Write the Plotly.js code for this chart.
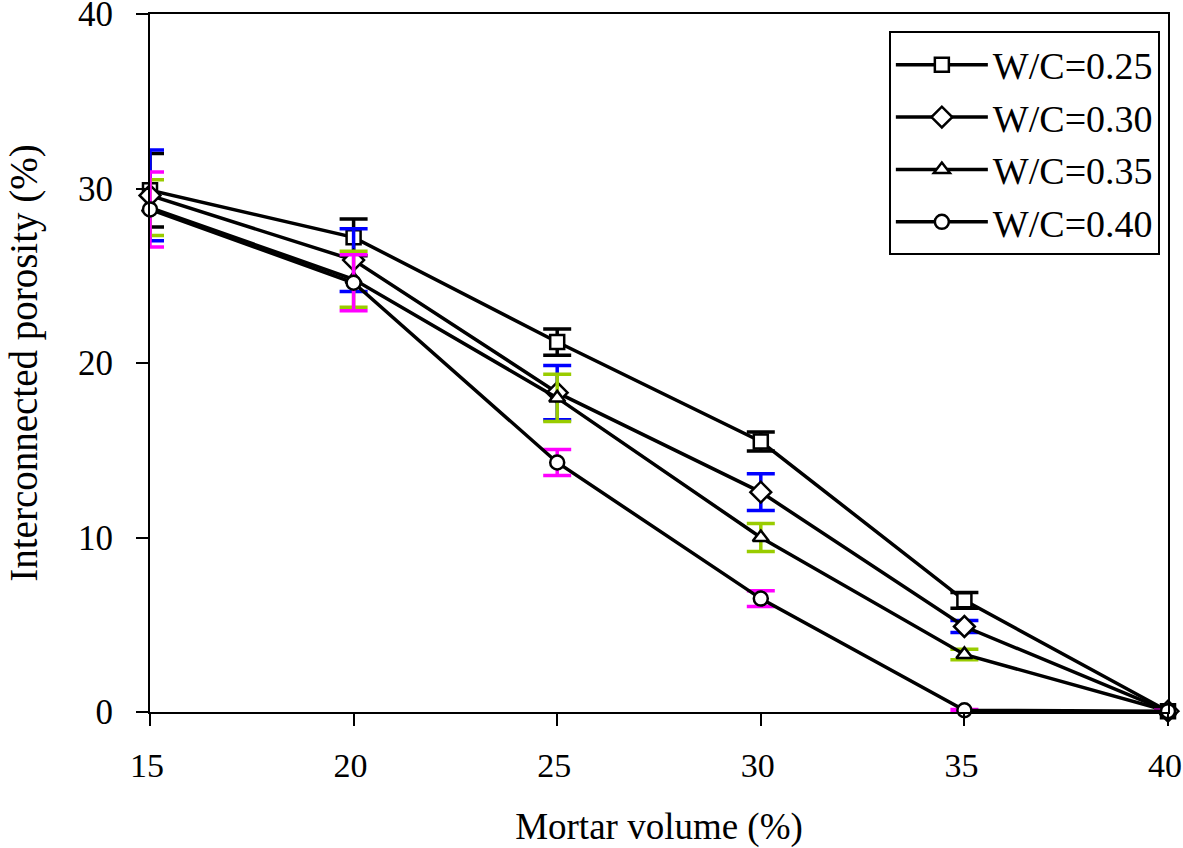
<!DOCTYPE html>
<html>
<head>
<meta charset="utf-8">
<script src="https://cdn.plot.ly/plotly-3.0.1.min.js"></script>
<style>html,body{margin:0;padding:0;background:#fff;}#chart{width:1183px;height:848px;}</style>
</head>
<body>
<div id="chart"></div>
<script>
const mortarVolume = [15, 20, 25, 30, 35, 40];
const seriesNames = ["W/C=0.25", "W/C=0.30", "W/C=0.35", "W/C=0.40"];
const wc025 = [29.9, 27.2, 21.2, 15.5, 6.4, 0.05];
const wc030 = [29.6, 25.9, 18.3, 12.6, 4.9, 0.05];
const wc035 = [28.9, 24.8, 18.0, 10.0, 3.3, 0.05];
const wc040 = [28.8, 24.6, 14.3, 6.5, 0.1, 0.05];
const err025 = [2.1, 1.05, 0.75, 0.55, 0.45, 0];
const err030 = [2.6, 1.8, 1.55, 1.05, 0.35, 0];
const err035 = [1.6, 1.6, 1.35, 0.8, 0.3, 0];
const err040 = [2.15, 1.6, 0.75, 0.45, 0.05, 0.05];
const errColors = ["#000000", "#0000ff", "#99cc00", "#ff00ff"];
const symbols = ["square", "diamond", "triangle-up", "circle"];
const values = [wc025, wc030, wc035, wc040];
const errors = [err025, err030, err035, err040];

const font = "Liberation Serif";
const traces = values.map((v, i) => ({
  x: mortarVolume,
  y: v,
  name: seriesNames[i],
  legendgroup: "g" + i,
  type: "scatter",
  mode: "lines+markers",
  cliponaxis: false,
  line: {color: "#000", width: 3.5},
  marker: {symbol: symbols[i], size: i === 1 ? 16 : 14, color: "#fff",
           line: {color: "#000", width: 2.5}},
  error_y: {type: "data", array: errors[i], visible: true, color: errColors[i], thickness: 3.5, width: 14}
}));

const layout = {
  width: 1183, height: 848,
  margin: {l: 150, r: 15, t: 14, b: 136},
  paper_bgcolor: "#fff", plot_bgcolor: "#fff",
  font: {family: font, color: "#000", size: 35},
  showlegend: true,
  legend: {x: 0.992, xanchor: "right", y: 0.975, yanchor: "top",
           bordercolor: "#000", borderwidth: 2, bgcolor: "#fff",
           font: {family: font, size: 38, color: "#000"},
           tracegroupgap: 20, traceorder: "normal", itemwidth: 92},
  xaxis: {range: [15, 40], tickvals: mortarVolume, ticks: "outside", ticklen: 12, tickwidth: 2,
          tickcolor: "#000", showline: true, linewidth: 2, linecolor: "#000", mirror: true,
          showgrid: false, zeroline: false, tickfont: {family: font, size: 34},
          ticklabeloverflow: "allow", ticklabelstandoff: 10, ticklabelshift: -3,
          title: {text: "Mortar volume (%)", font: {family: font, size: 37}, standoff: 30}},
  yaxis: {range: [0, 40], tickvals: [0, 10, 20, 30, 40], ticks: "outside", ticklen: 12, tickwidth: 2,
          tickcolor: "#000", showline: true, linewidth: 2, linecolor: "#000", mirror: true,
          showgrid: false, zeroline: false, tickfont: {family: font, size: 35},
          ticklabeloverflow: "allow", ticklabelstandoff: 16,
          title: {text: "Interconnected porosity (%)", font: {family: font, size: 39}, standoff: 28}}
};
Plotly.newPlot("chart", traces, layout, {displayModeBar: false, staticPlot: true});
</script>
</body>
</html>
